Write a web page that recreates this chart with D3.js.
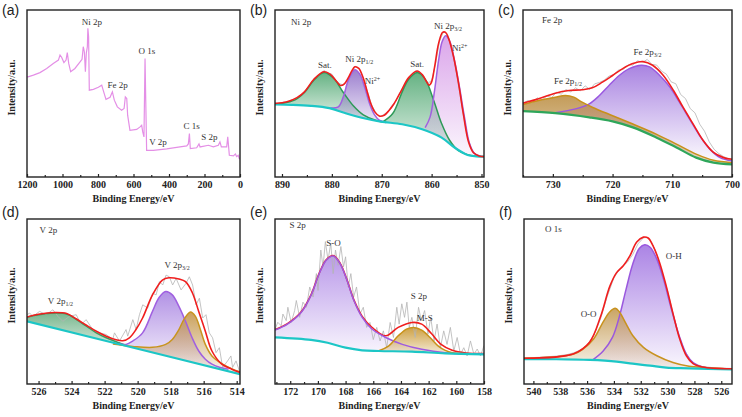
<!DOCTYPE html>
<html><head><meta charset="utf-8">
<script src="https://cdn.jsdelivr.net/npm/d3@7"></script>
<style>body{margin:0;background:#fff;} svg{display:block;}</style>
</head><body>
<svg id="chart" width="742" height="417"></svg>
<script>
// ---------- DATA (binding energy eV, intensity a.u.) ----------
const surveyData = [[1200,60],[1194,60],[1164,61],[1127,62.5],[1089,65],[1052,68],[1023,70],[1014,73],[1005,71.7],[992,68.5],[980,70],[973,74.5],[965,68],[954,63],[930,65],[901,69],[890,70.5],[883,78],[877,75],[871,63],[866,74],[860,78],[857,89],[853,84],[849,52],[826,52.5],[798,53.7],[779,55],[770,51.7],[755,46.5],[732,47.7],[719,51],[708,46],[691,42],[667,40],[653,41],[646,48],[638,47],[633,37],[620,28],[582,28.5],[563,30],[554,31],[548,27],[541,24],[535,71],[531,46],[526,16],[488,16],[413,16.8],[338,18],[300,18.6],[291,19.8],[285,26],[280,17],[244,17.5],[231,19.8],[225,18],[178,19],[150,18],[122,19],[113,21],[105,18],[75,18],[69,24],[60,13],[37,12.6],[26,13.8],[19,12.2],[10,13],[4,11],[0,11]];
const surveyTicks = [1200,1000,800,600,400,200,0];
const surveyMinor = [1100,900,700,500,300,100];
const surveyLabels = [["Ni 2p",834,91],["O 1s",524,73.7],["Fe 2p",690,53.3],["V 2p",462,19.2],["C 1s",273,28.7],["S 2p",172,22.2]];

const niBackground = [[891.4,43.4],[888,43.2],[884.2,42.6],[880.5,41.2],[877.7,38.6],[874,35.5],[870.2,33.2],[865.9,31.6],[861.9,28.6],[858,23.6],[855.4,17.6],[852.8,13.2],[851,12.4],[849.5,12.2]];
const niSat1 = [[891.4,43.6],[890.1,44],[887.5,46],[885.5,50.6],[883.6,58],[881.6,62.6],[879.6,59],[877.7,50.6],[875.7,42.6],[873.7,37.2],[871.1,33.8],[869.1,32.6]];
const ni2p12 = [[880.3,41.3],[878.7,42],[877.7,48],[876.7,58],[875.4,64.2],[874.4,61.6],[873.4,53.6],[872.4,43.6],[871.4,37],[870.5,34],[869.5,33]];
const niSat2 = [[869.8,33],[867.8,38],[865.9,51],[864.6,58.5],[862.9,62.6],[861.3,58.6],[859.6,46],[858,32],[856.4,22],[854.7,16],[852.8,13.4],[851,12.5]];
const ni2p32 = [[861.3,29.5],[860.3,36],[859.4,52],[858.6,70],[857.9,81],[857.2,84.6],[856.4,81.6],[855.4,69.6],[854.4,53.6],[853.4,35.6],[852.4,20],[851.4,14],[850.1,12.4]];
const niEnvelope = [[891.4,44],[889,45],[887,47.5],[885.5,51],[883.6,58.5],[881.6,63],[880.3,61.5],[879,57],[878.3,54.8],[877.5,55.8],[876.7,59.5],[876,63.5],[875.4,66],[874.6,65],[873.8,60],[873,52],[872.2,44],[871.4,39],[870.5,36.5],[869.5,37],[868.5,40],[867.5,44],[866.2,51],[864.6,59.5],[862.9,63.5],[861.8,61],[861,57],[860.5,55],[860,57],[859.4,66],[858.6,80],[857.8,86.6],[857.2,86.6],[856.6,83],[855.6,72],[854.6,56],[853.6,37],[852.6,21],[851.6,14.5],[850.5,12.6],[849.5,12.2]];
const niRaw = [[891.4,44.5],[890.5,43.8],[889.6,45],[888.8,44.6],[888,46.3],[887.2,46],[886.4,48.8],[885.6,50],[884.8,53.8],[884,56],[883.2,59.4],[882.4,61],[881.6,63.8],[880.8,62.4],[880,61.6],[879.2,58],[878.4,55.8],[877.6,55],[876.8,58.6],[876,63],[875.2,66.4],[874.4,64.2],[873.6,58.4],[872.8,50.6],[872,43],[871.2,38.6],[870.4,36],[869.6,37.4],[868.8,39],[868,42.6],[867.2,45.4],[866.4,50.4],[865.6,54],[864.8,58.8],[864,61],[863.2,63.6],[862.4,62.8],[861.6,59.4],[860.8,56],[860,57.8],[859.2,68],[858.4,81.4],[857.6,87],[856.8,85.4],[856,77.6],[855.2,65],[854.4,51],[853.6,36.4],[852.8,24],[852,16.8],[851.2,13.6],[850.4,12.8],[849.5,12.4]];
const niTicks = [890,880,870,860,850];
const niMinor = [885,875,865,855];

const feBackground = [[735,39.4],[729.6,38.2],[723.9,35.7],[720,33.3],[716.6,29.7],[712.7,23.7],[709.3,17.7],[706,11.6],[703.1,8.6],[700,7.6]];
const fe2p12 = [[735,43.4],[732.4,45.8],[729.6,47.8],[727.9,48.8],[726.5,47.8],[725.1,44.8],[723.4,41.8],[720,36.7],[716.6,31.7],[712.7,25.7],[709.3,19.7],[706,13.7],[703.1,10],[700,8.6]];
const fe2p32 = [[729.6,38.5],[726.2,40.8],[723.9,43.8],[722.2,48.8],[720.6,54.8],[718.9,60.8],[717.2,64.9],[715.2,66.9],[713.8,65.9],[712.1,60.8],[710.4,53.8],[708.8,44.8],[707.1,34.7],[705.4,24.7],[703.7,16.7],[702,11.6],[700,9.6]];
const feEnvelope = [[735,44.2],[732.4,46.8],[729.6,50.2],[727.3,51.8],[725.1,52.2],[723.4,53.4],[721.7,56.8],[720,60.8],[718.3,64.9],[716.6,67.9],[714.9,69.1],[713.3,66.9],[711.5,60.8],[709.8,51.8],[708.2,41.8],[706.5,31.7],[704.8,21.7],[703.1,14.7],[701.4,11.6],[700,10.6]];
const feRaw = [[735,44],[734.2,45.8],[733.4,44.6],[732.6,47.4],[731.8,46],[731,48.6],[730.2,47.6],[729.4,50.8],[728.6,49.6],[727.8,52.4],[727,51],[726.2,53.4],[725.4,51.6],[724.6,54.6],[723.8,52.4],[723,55.8],[722.2,56.6],[721.4,58],[720.6,60.4],[719.8,61.4],[719,64],[718.2,64.4],[717.4,67.2],[716.6,67],[715.8,69.6],[715,68.6],[714.2,70.4],[713.4,67.4],[712.6,67],[711.8,63.4],[711,61.6],[710.2,57],[709.4,55.8],[708.6,49.4],[707.8,47],[707,41],[706.2,38.4],[705.4,31.6],[704.6,27.4],[703.8,21],[703,16.6],[702.2,14],[701.4,12.2],[700.6,11],[700,10.8]];
const feTicks = [730,720,710,700];
const feMinor = [735,725,715,705];

const vBackground = [[526.7,38],[520.25,22],[513.8,6]];
const v2p12 = [[526.7,40.4],[526.2,41.6],[525.6,42.6],[525,43],[524.3,42.4],[523.7,39],[523.1,35],[522.5,31],[521.9,28],[521.3,25.6],[520.7,23.3]];
const v2p32a = [[521.2,24.5],[520.7,24],[520.3,26],[519.7,31],[519.1,44],[518.7,52.4],[518.3,56],[517.9,54],[517.5,47],[517.1,38],[516.7,28],[516.3,20],[515.9,15],[515.5,12],[515,10],[514.5,9]];
const v2p32b = [[521.5,24.2],[520.3,22.8],[519.1,22.2],[518.3,24],[517.9,27],[517.5,33],[517.2,39],[516.8,43.6],[516.5,41],[516.2,33],[515.9,24],[515.5,17],[514.85,12],[514.25,9],[513.8,7.4]];
const vEnvelope = [[526.7,40.6],[526,42.3],[525,43.3],[524.3,42.7],[523.7,39.4],[523.1,35.6],[522.5,32],[521.9,29],[521.3,26.8],[520.9,26.2],[520.5,28],[520.1,33],[519.7,40],[519.1,54],[518.5,63],[518.1,64.4],[517.5,63.6],[517.1,62],[516.7,55.6],[516.3,44],[515.9,32],[515.5,20],[514.9,12],[514.3,9],[513.8,7]];
const vRaw = [[526.7,42],[526.54,43],[526.34,41],[525.94,44],[525.54,42],[525.13,45],[524.83,41],[524.53,38],[524.13,41],[523.72,42],[523.42,36],[523.12,39],[522.72,33],[522.31,31],[521.91,30],[521.51,27],[521.4,31],[521.1,26],[520.7,33],[520.6,29],[520.29,39],[520.09,33],[519.89,42],[519.69,48],[519.39,46],[519.08,55],[518.88,54],[518.68,62],[518.48,60],[518.28,66],[518.08,65],[517.88,60],[517.67,64],[517.37,57],[517.07,61],[516.87,65],[516.67,60],[516.46,48],[516.26,52],[516.06,40],[515.86,42],[515.66,31],[515.46,28],[515.25,19],[515.05,22],[514.85,10],[514.55,14],[514.35,17],[514.25,10],[514.04,14],[513.84,8]];
const vTicks = [526,524,522,520,518,516,514];
const vMinor = [525,523,521,519,517,515];

const sBackground = [[173.1,28.2],[170.5,26.7],[169.3,25],[168,22],[166.8,20.4],[165.6,20],[163.2,19.6],[160.8,18.6],[158,18]];
const sSO = [[173.1,32.7],[172.2,36.3],[171.2,43.5],[170.5,53.7],[169.9,67],[169.4,75],[168.9,77.6],[168.4,73],[167.9,62.9],[167.4,50.6],[166.8,40.4],[166.1,33.3],[165.1,28.2],[163.9,24],[162.5,21],[160.8,19],[158,18.2]];
const sMS = [[165.6,20.2],[164.9,23],[164.2,29.2],[163.6,33.3],[163.1,34.3],[162.5,32.7],[161.9,28.2],[161.3,23],[160.8,20.4],[160.3,19],[159.5,18.5]];
const sEnvelope = [[173.1,33],[172.2,36.6],[171.2,43.8],[170.5,54],[169.9,67.3],[169.4,75.3],[168.9,77.9],[168.4,73.3],[167.9,63.2],[167.4,51],[166.8,41],[166.1,34.4],[165.1,29.2],[164.2,34.3],[163.2,37.3],[162.5,36.3],[161.8,30.6],[161.1,24],[160.3,20.4],[159.3,18.8],[158,18.4]];
const sRaw = [[173.14,32.2],[172.9,37.4],[172.65,35.3],[172.53,42.4],[172.29,38.4],[172.17,46.5],[171.93,37.3],[171.68,44.5],[171.56,50.6],[171.32,40.4],[171.08,49.6],[170.83,46.5],[170.59,58.8],[170.35,52.7],[170.11,66.9],[169.99,56.7],[169.79,81.2],[169.63,71],[169.46,86.3],[169.27,75.1],[169.07,85.3],[168.9,66.9],[168.73,81.2],[168.54,72],[168.34,83.3],[168.15,71],[168,77.1],[167.81,58.8],[167.62,66.9],[167.42,52.7],[167.21,58.8],[166.96,42.4],[166.72,46.5],[166.48,34.3],[166.24,37.3],[166,26.9],[165.75,34.3],[165.51,26.1],[165.27,32.2],[165.03,22],[164.78,37.3],[164.54,28.2],[164.3,46.5],[164.13,36.3],[163.94,48.6],[163.74,40.4],[163.57,49.6],[163.4,34.3],[163.21,40.4],[162.97,28.2],[162.73,46.5],[162.53,38.4],[162.29,44.5],[162.05,30.2],[161.85,40.4],[161.61,26.1],[161.39,36.3],[161.15,22],[160.91,32.2],[160.67,24],[160.43,34.3],[160.18,20],[159.94,28.2],[159.7,18],[159.46,22],[159.22,17],[158.98,26.1],[158.73,18],[158.49,21.2],[158.25,17],[158,23.3]];
const sTicks = [172,170,168,166,164,162,160,158];
const sMinor = [173,171,169,167,165,163,161,159];

const oBackground = [[540.7,15],[538.3,15],[535.8,14.6],[533.8,13.6],[532.6,12.3],[531.3,11.1],[530.1,9.9],[528.4,9.5],[525.2,8.8]];
const oOO = [[540.7,15.6],[538.3,16.5],[537,18.1],[536.3,21.2],[535.5,27.4],[534.8,37.7],[534.3,43.8],[533.9,45.9],[533.6,43.8],[533.1,36.6],[532.6,29.4],[531.8,22.2],[530.8,17.1],[529.6,13],[528.4,10.7],[527.1,9.9],[525.2,9]];
const oOH = [[535.6,14.5],[534.8,20],[534.1,28.4],[533.6,40.7],[533.1,57.2],[532.6,72.6],[532.1,82.3],[531.7,84.4],[531.3,82.9],[530.8,75.7],[530.3,63.4],[529.7,44.9],[529.1,28.4],[528.6,18.1],[528.1,13],[527.4,10.3],[525.2,8.9]];
const oEnvelope = [[540.7,15.6],[537,18.4],[535.8,25.5],[535,40.7],[534.3,59.3],[533.8,67.5],[533.3,71.6],[532.8,77.8],[532.3,86],[531.8,89],[531.45,88.5],[531.1,84],[530.6,73.7],[530.1,59.3],[529.6,42.8],[529.1,27.4],[528.6,17.1],[528.1,12.3],[527.4,10.3],[525.2,9.2]];
const oRaw = [[540.7,15.8],[539.5,16.2],[538.3,16.9],[537.5,17.8],[537,18.9],[536.5,20.6],[536,23.6],[535.5,29.5],[535,39.4],[534.5,53],[534,64.4],[533.5,70.4],[533,73.8],[532.6,78.4],[532.2,85],[531.8,88.6],[531.5,88.8],[531.2,86],[530.8,78.8],[530.4,67.2],[530,56.4],[529.6,43],[529.2,30.4],[528.8,21.2],[528.4,15.6],[528,12.4],[527.4,10.6],[526.5,9.8],[525.2,9.4]];
const oTicks = [540,538,536,534,532,530,528,526];
const oMinor = [539,537,535,533,531,529,527];

// ---------- DRAWING ----------
const svg = d3.select('#chart');
const defs = svg.append('defs');
const serif = "'Liberation Serif','Times New Roman',serif";
const sans = "'Liberation Sans',Arial,sans-serif";
const curve = d3.curveCatmullRom.alpha(0.5);
const RED = '#f01e1e', CYAN = '#1cc6c6', GRAY = '#b4b4b4';

function addLabel(g, text, px, py, anchor) {
  const t = g.append('text').attr('x', px).attr('y', py).attr('text-anchor', anchor)
    .attr('font-family', serif).attr('font-size', 9).attr('fill', '#333');
  const re = /([_^])\{([^}]*)\}/g; let last = 0, m;
  while ((m = re.exec(text)) !== null) {
    if (m.index > last) t.append('tspan').text(text.slice(last, m.index));
    t.append('tspan').attr('font-size', 6).attr('baseline-shift', m[1] === '_' ? '-2' : '3.5').text(m[2]);
    last = re.lastIndex;
  }
  if (last < text.length) t.append('tspan').text(text.slice(last));
}

function drawPanel(p) {
  const x = d3.scaleLinear().domain(p.domain).range([p.x0, p.x1]);
  const y = d3.scaleLinear().domain([0, 100]).range([p.y1, p.y0]);
  const g = svg.append('g');
  const fc = 'fc-' + p.id;
  defs.append('clipPath').attr('id', fc).append('rect')
    .attr('x', p.x0).attr('y', p.y0).attr('width', p.x1 - p.x0).attr('height', p.y1 - p.y0);
  const inner = g.append('g').attr('clip-path', `url(#${fc})`);
  const line = d3.line().x(d => x(d[0])).y(d => y(d[1])).curve(curve);

  if (p.survey) {
    inner.append('path').attr('d', d3.line().x(d => x(d[0])).y(d => y(d[1]))(p.survey))
      .attr('fill', 'none').attr('stroke', '#e48fe6').attr('stroke-width', 1.2);
  }
  if (p.bg) {
    const bc = 'bc-' + p.id;
    defs.append('clipPath').attr('id', bc).append('path')
      .attr('d', d3.area().x(d => x(d[0])).y0(p.y0 - 10).y1(d => y(d[1])).curve(curve)(p.bg));
    const fills = inner.append('g').attr('clip-path', `url(#${bc})`);
    p.comps.forEach((c, i) => {
      const gid = `gr-${p.id}-${i}`;
      const vals = c.data.map(d => d[1]);
      const lg = defs.append('linearGradient').attr('id', gid).attr('gradientUnits', 'userSpaceOnUse')
        .attr('x1', 0).attr('x2', 0).attr('y1', y(d3.max(vals))).attr('y2', y(d3.min(vals)));
      lg.append('stop').attr('offset', 0).attr('stop-color', c.fill).attr('stop-opacity', c.op0);
      lg.append('stop').attr('offset', 1).attr('stop-color', c.fill).attr('stop-opacity', c.op1);
      fills.append('path').attr('d', d3.area().x(d => x(d[0])).y0(p.y1).y1(d => y(d[1])).curve(curve)(c.data))
        .attr('fill', `url(#${gid})`);
    });
    inner.append('path').attr('d', d3.line().x(d => x(d[0])).y(d => y(d[1]))(p.raw))
      .attr('fill', 'none').attr('stroke', GRAY).attr('stroke-width', 0.8);
    const drawEnv = () => inner.append('path').attr('d', line(p.env)).attr('fill', 'none')
      .attr('stroke', RED).attr('stroke-width', 1.6);
    if (p.redBelow) drawEnv();
    p.comps.forEach(c => inner.append('path').attr('d', line(c.data)).attr('fill', 'none')
      .attr('stroke', c.stroke).attr('stroke-width', 1.5));
    inner.append('path').attr('d', line(p.bg)).attr('fill', 'none')
      .attr('stroke', p.bgColor || CYAN).attr('stroke-width', 2.2);
    if (!p.redBelow) drawEnv();
  }
  // frame
  g.append('rect').attr('x', p.x0).attr('y', p.y0).attr('width', p.x1 - p.x0).attr('height', p.y1 - p.y0)
    .attr('fill', 'none').attr('stroke', '#222').attr('stroke-width', 1.4);
  // axes
  const ax = g.append('g').attr('transform', `translate(0,${p.y1})`)
    .call(d3.axisBottom(x).tickValues(p.ticks).tickSize(-3).tickPadding(4).tickFormat(d3.format('d')));
  ax.select('.domain').remove();
  ax.selectAll('line').attr('stroke', '#222').attr('stroke-width', 1.2);
  ax.selectAll('text').attr('font-family', serif).attr('font-weight', 'bold').attr('font-size', 10).attr('fill', '#222');
  const mx = g.append('g').attr('transform', `translate(0,${p.y1})`)
    .call(d3.axisBottom(x).tickValues(p.minor).tickSize(-2).tickFormat(''));
  mx.select('.domain').remove();
  mx.selectAll('line').attr('stroke', '#222').attr('stroke-width', 1.2);
  // titles
  g.append('text').attr('x', (p.x0 + p.x1) / 2).attr('y', p.y1 + 25).attr('text-anchor', 'middle')
    .attr('font-family', serif).attr('font-weight', 'bold').attr('font-size', 10).attr('fill', '#222')
    .text('Binding Energy/eV');
  const cy = (p.y0 + p.y1) / 2 - 6, cx = p.x0 - 12;
  g.append('text').attr('transform', `translate(${cx},${cy}) rotate(-90)`).attr('text-anchor', 'middle')
    .attr('font-family', serif).attr('font-weight', 'bold').attr('font-size', 10).attr('fill', '#222')
    .text('Intensity/a.u.');
  g.append('text').attr('x', p.x0 - 25).attr('y', p.y0 + p.letterDy).attr('font-family', sans).attr('font-size', 14)
    .attr('fill', '#222').text(p.letter);
  p.labels.forEach(l => addLabel(g, l[0], x(l[1]), y(l[2]), l[3] || 'start'));
}

drawPanel({id:'a', letter:'(a)', letterDy:5, x0:27, x1:240, y0:10, y1:177, domain:[1200,0],
  survey: surveyData, ticks: surveyTicks, minor: surveyMinor,
  labels: surveyLabels.map(l => [l[0], l[1], l[2], 'middle'])});

drawPanel({id:'b', letter:'(b)', letterDy:5, x0:275, x1:484, y0:10, y1:177, domain:[891.4,849.5],
  bg: niBackground, env: niEnvelope, raw: niRaw, ticks: niTicks, minor: niMinor,
  comps: [
    {data: niSat1, stroke:'#2e9a58', fill:'#3f9f64', op0:0.8, op1:0.12},
    {data: ni2p12, stroke:'#a160e0', fill:'#8a68c6', op0:0.85, op1:0.15},
    {data: niSat2, stroke:'#2e9a58', fill:'#3f9f64', op0:0.8, op1:0.12},
    {data: ni2p32, stroke:'#a160e0', fill:'#d79ce8', op0:0.9, op1:0.1}],
  labels: [["Ni 2p",888.2,91],["Sat.",881.4,65,'middle'],["Ni 2p_{1/2}",874.5,68.6,'middle'],["Ni^{2+}",873.4,55.6],
           ["Sat.",862.9,65.6,'middle'],["Ni 2p_{3/2}",856.7,88.6,'middle'],["Ni^{2+}",855.9,75.6]]});

drawPanel({id:'c', letter:'(c)', letterDy:5, x0:523, x1:732, y0:10, y1:177, domain:[735,700],
  bg: feBackground, bgColor:'#2ea65a', env: feEnvelope, raw: feRaw, ticks: feTicks, minor: feMinor,
  comps: [
    {data: fe2p32, stroke:'#9a58e0', fill:'#9a6edc', op0:0.85, op1:0.04},
    {data: fe2p12, stroke:'#c8901a', fill:'#b98a3c', op0:0.85, op1:0.3}],
  labels: [["Fe 2p",731.8,92.4],["Fe 2p_{1/2}",729.8,55.8],["Fe 2p_{3/2}",716.5,72.9]]});

drawPanel({id:'d', letter:'(d)', letterDy:-2, x0:27, x1:240, y0:219, y1:384, domain:[526.7,513.8],
  bg: vBackground, env: vEnvelope, raw: vRaw, ticks: vTicks, minor: vMinor,
  comps: [
    {data: v2p12, stroke:'#3a9a5e', fill:'#4da06a', op0:0.75, op1:0.25},
    {data: v2p32a, stroke:'#a060e0', fill:'#a47ee0', op0:0.85, op1:0.08},
    {data: v2p32b, stroke:'#c8941e', fill:'#c09040', op0:0.85, op1:0.1}],
  labels: [["V 2p",525.94,91.6],["V 2p_{3/2}",518.38,70.4],["V 2p_{1/2}",525.44,48.4]]});

drawPanel({id:'e', letter:'(e)', letterDy:-2, x0:275, x1:484, y0:219, y1:384, domain:[173.1,158], redBelow:true,
  bg: sBackground, env: sEnvelope, raw: sRaw, ticks: sTicks, minor: sMinor,
  comps: [
    {data: sSO, stroke:'#9e5ae0', fill:'#ae88e6', op0:0.85, op1:0.08},
    {data: sMS, stroke:'#c8921a', fill:'#c8962e', op0:0.9, op1:0.2}],
  labels: [["S 2p",172.05,94.5],["S-O",169.4,83.7],["S 2p",163.3,51.6],["M-S",162.85,38.4]]});

drawPanel({id:'f', letter:'(f)', letterDy:-2, x0:524, x1:732, y0:219, y1:384, domain:[540.7,525.2],
  bg: oBackground, env: oEnvelope, raw: oRaw, ticks: oTicks, minor: oMinor,
  comps: [
    {data: oOH, stroke:'#9a58de', fill:'#9c6ee0', op0:0.85, op1:0.05},
    {data: oOO, stroke:'#c8921e', fill:'#c09448', op0:0.85, op1:0.1}],
  labels: [["O 1s",539.13,92.2],["O-H",530.14,75.7],["O-O",536.48,40.7]]});
</script>
</body></html>
